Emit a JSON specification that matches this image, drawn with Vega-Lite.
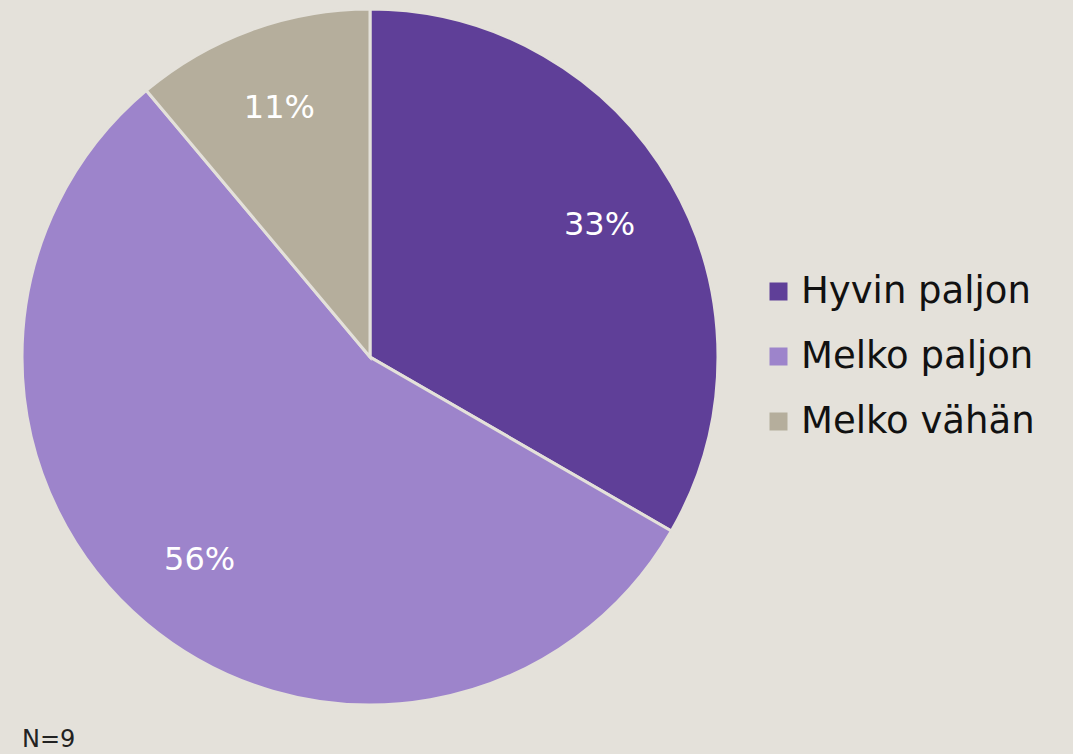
{
  "$schema": "https://vega.github.io/schema/vega-lite/v6.json",
  "width": 740,
  "height": 714,
  "autosize": {"type": "none"},
  "padding": {"left": 0, "top": 0, "right": 333, "bottom": 40},
  "background": "#e4e1da",
  "config": {"view": {"stroke": null}, "font": "DejaVu Sans"},
  "title": {"text": "N=9", "orient": "bottom", "anchor": "start", "dx": 22, "offset": 14, "fontSize": 24, "fontWeight": "normal", "color": "#222222", "font": "DejaVu Sans"},
  "data": {
    "values": [
      {"category": "Hyvin paljon", "value": 3, "label": "33%", "order": 1},
      {"category": "Melko paljon", "value": 5, "label": "56%", "order": 2},
      {"category": "Melko vähän", "value": 1, "label": "11%", "order": 3}
    ]
  },
  "encoding": {
    "theta": {"field": "value", "type": "quantitative", "stack": true},
    "order": {"field": "order", "type": "quantitative"}
  },
  "layer": [
    {
      "mark": {"type": "arc", "outerRadius": 348, "stroke": "#e4e1da", "strokeWidth": 3},
      "encoding": {
        "color": {
          "field": "category",
          "type": "nominal",
          "scale": {"domain": ["Hyvin paljon", "Melko paljon", "Melko vähän"], "range": ["#5f3f98", "#9d84cb", "#b5ae9c"]},
          "legend": {
            "title": null,
            "orient": "none",
            "legendX": 760,
            "legendY": 273,
            "padding": 0,
            "symbolType": "square",
            "symbolSize": 324,
            "symbolStrokeWidth": 0,
            "labelFontSize": 37,
            "labelColor": "#111111",
            "labelOffset": 4,
            "labelLimit": 400,
            "rowPadding": 27,
            "labelFont": "DejaVu Sans"
          }
        }
      }
    },
    {
      "mark": {"type": "text", "radius": 265, "fontSize": 32, "color": "#ffffff", "font": "DejaVu Sans"},
      "encoding": {"text": {"field": "label", "type": "nominal"}}
    }
  ]
}
